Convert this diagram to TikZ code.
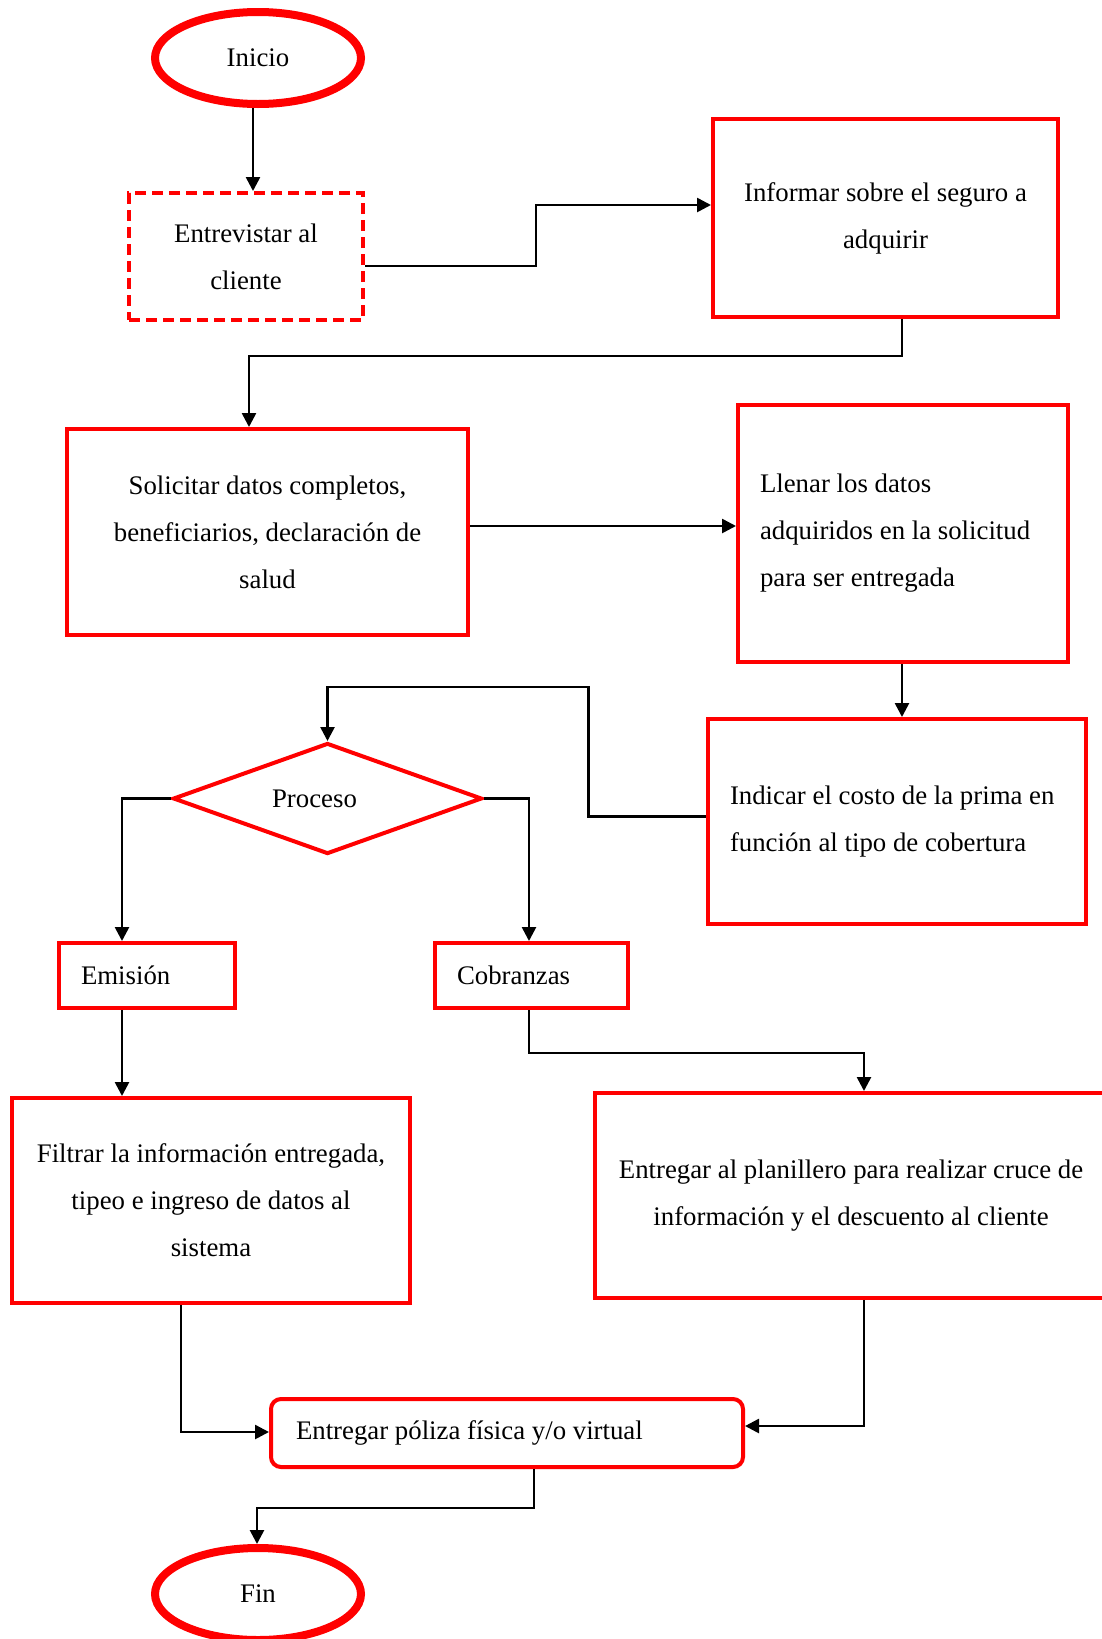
\documentclass[tikz,border=0pt]{standalone}
\usepackage{fontspec}
\setmainfont{Liberation Serif}
\usetikzlibrary{shapes.geometric,arrows.meta}

\begin{document}
\begin{tikzpicture}[x=0.5pt,y=-0.5pt,
        font=\fontsize{13.4}{23.5}\selectfont,
        caja/.style={draw=red,line width=2pt,inner sep=0pt,align=center},
        cajaizq/.style={caja,align=flush left,inner xsep=11pt},
        elipse/.style={draw=red,line width=4pt,ellipse,inner sep=0pt,
            minimum width=103pt,minimum height=46pt},
        flecha/.style={-{Triangle[length=7pt,width=7pt]},line width=1.3pt}]
        \useasboundingbox (0,0) rectangle (1102,1639);
        \node[elipse] (inicio) at (258,58) {Inicio};
        \node[caja,dash pattern=on 5.5pt off 3pt,minimum width=117pt,minimum height=63.5pt] (entrevistar) at (246,256.5) {Entrevistar al\\cliente};
        \node[caja,minimum width=172.5pt,minimum height=99pt] (informar) at (885.5,218) {Informar sobre el seguro a\\adquirir};
        \node[caja,minimum width=200.5pt,minimum height=103pt] (solicitar) at (267.5,532) {Solicitar datos completos,\\beneficiarios, declaración de\\salud};
        \node[cajaizq,text width=143pt,minimum height=128.5pt] (llenar) at (903,533.5) {Llenar los datos\\adquiridos en la solicitud\\para ser entregada};
        \node[cajaizq,text width=167pt,minimum height=102.5pt] (indicar) at (897,821.5) {Indicar el costo de la prima en\\función al tipo de cobertura};
        \node[draw=red,line width=2pt,diamond,aspect=2.78,inner sep=0pt,minimum width=154.5pt,minimum height=55.5pt] (proceso) at (327.5,798.5) {Proceso\hspace*{13pt}};
        \node[cajaizq,text width=66pt,minimum height=32.5pt] (emision) at (147,975.5) {Emisión};
        \node[cajaizq,text width=74.5pt,minimum height=32.5pt] (cobranzas) at (531.5,975.5) {Cobranzas};
        \node[caja,minimum width=199pt,minimum height=102.5pt] (filtrar) at (211,1200.5) {Filtrar la información entregada,\\tipeo e ingreso de datos al\\sistema};
        \node[caja,minimum width=256pt,minimum height=102.5pt] (planillero) at (851,1195.5) {Entregar al planillero para realizar cruce de\\información y el descuento al cliente};
        \node[cajaizq,rounded corners=5pt,inner xsep=12.5pt,text width=211pt,minimum height=34pt] (poliza) at (507,1433) {Entregar póliza física y/o virtual};
        \node[elipse] (fin) at (258,1594) {Fin};

        \draw[flecha] (inicio.south -| 253,0) -- (entrevistar.north -| 253,0);
        \draw[flecha] (entrevistar.east |- 0,266) -- (536,266) |- (informar.west |- 0,205);
        \draw[flecha] (informar.south -| 902,0) |- (249,356) -- (solicitar.north -| 249,0);
        \draw[flecha] (solicitar.east |- 0,526) -- (llenar.west |- 0,526);
        \draw[flecha] (llenar.south -| 902,0) -- (indicar.north -| 902,0);
        \draw[flecha] (indicar.west |- 0,816.5) -| (588.5,687) -| (proceso.north);
        \draw[flecha] (proceso.west) -| (emision.north -| 122,0);
        \draw[flecha] (proceso.east) -| (cobranzas.north -| 529,0);
        \draw[flecha] (emision.south -| 122,0) -- (filtrar.north -| 122,0);
        \draw[flecha] (cobranzas.south -| 529,0) |- (864,1053) -- (planillero.north -| 864,0);
        \draw[flecha] (filtrar.south -| 181,0) |- (poliza.west |- 0,1432);
        \draw[flecha] (planillero.south -| 864,0) |- (poliza.east |- 0,1426);
        \draw[flecha] (poliza.south -| 534,0) |- (257,1508) -- (fin.north -| 257,0);
    \end{tikzpicture}
\end{document}
